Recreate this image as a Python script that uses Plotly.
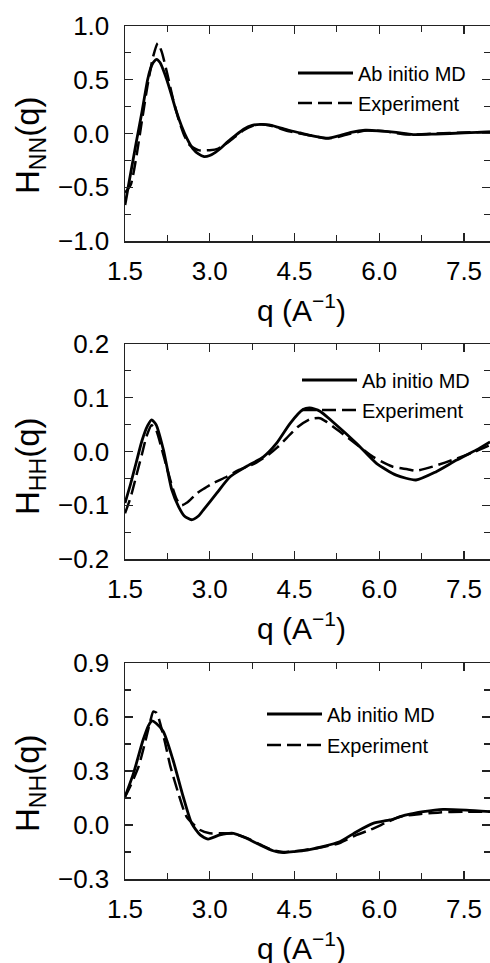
import plotly.graph_objects as go

# ---------------- data ----------------
nn_md_q = [1.5, 1.6, 1.7, 1.8, 1.9, 1.95, 2.0, 2.06, 2.12, 2.2, 2.3, 2.4, 2.5, 2.6, 2.7, 2.8, 2.9, 3.0,
           3.1, 3.2, 3.3, 3.45, 3.6, 3.75, 3.9, 4.05, 4.2, 4.4, 4.6, 4.8, 5.0, 5.1, 5.3, 5.5, 5.75,
           6.0, 6.3, 6.6, 7.0, 7.5, 7.96]
nn_md_v = [-0.665, -0.37, -0.08, 0.2, 0.5, 0.6, 0.66, 0.69, 0.66, 0.56, 0.40, 0.22, 0.07, -0.05, -0.14,
           -0.19, -0.215, -0.205, -0.175, -0.135, -0.085, -0.02, 0.04, 0.075, 0.085, 0.08, 0.06, 0.03,
           0.005, -0.02, -0.04, -0.045, -0.02, 0.01, 0.03, 0.025, 0.01, -0.01, -0.005, 0.005, 0.015]
nn_ex_q = [1.5, 1.6, 1.7, 1.8, 1.9, 2.0, 2.08, 2.15, 2.25, 2.35, 2.45, 2.55, 2.65, 2.8, 3.0, 3.15, 3.3,
           3.45, 3.6, 3.75, 3.9, 4.1, 4.4, 4.7, 5.0, 5.2, 5.5, 5.8, 6.1, 6.5, 7.0, 7.5, 7.96]
nn_ex_v = [-0.55, -0.48, -0.22, 0.12, 0.45, 0.72, 0.84, 0.76, 0.55, 0.32, 0.13, -0.02, -0.11, -0.155,
           -0.155, -0.14, -0.09, -0.03, 0.03, 0.07, 0.085, 0.07, 0.02, -0.01, -0.04, -0.04, 0.0, 0.03,
           0.02, -0.01, 0.0, 0.01, 0.015]

hh_md_q = [1.5, 1.6, 1.7, 1.8, 1.9, 1.97, 2.05, 2.18, 2.33, 2.45, 2.55, 2.68, 2.8, 2.885, 3.12, 3.36,
           3.65, 3.95, 4.18, 4.42, 4.65, 4.77, 4.95, 5.18, 5.6, 5.95, 6.3, 6.65, 7.0, 7.37, 7.72, 7.96]
hh_md_v = [-0.096, -0.06, -0.02, 0.02, 0.048, 0.059, 0.05, 0.003, -0.072, -0.103, -0.12, -0.127, -0.12,
           -0.109, -0.078, -0.047, -0.028, -0.010, 0.015, 0.052, 0.078, 0.081, 0.075, 0.055, 0.015,
           -0.022, -0.044, -0.053, -0.038, -0.016, 0.003, 0.018]
hh_ex_q = [1.5, 1.6, 1.71, 1.8, 1.88, 1.97, 2.05, 2.15, 2.24, 2.35, 2.42, 2.5, 2.6, 2.77, 2.9, 3.06,
           3.3, 3.5, 3.8, 4.05, 4.2, 4.36, 4.55, 4.77, 4.95, 5.07, 5.3, 5.6, 5.89, 6.23, 6.5, 6.65,
           6.95, 7.37, 7.7, 7.96]
hh_ex_v = [-0.115, -0.085, -0.041, -0.005, 0.028, 0.049, 0.04, 0.005, -0.03, -0.07, -0.09, -0.10,
           -0.095, -0.078, -0.069, -0.059, -0.047, -0.035, -0.022, -0.005, 0.008, 0.025, 0.045, 0.060,
           0.062, 0.055, 0.037, 0.013, -0.01, -0.028, -0.033, -0.036, -0.028, -0.013, 0.0, 0.012]

nh_md_q = [1.5, 1.65, 1.82, 1.92, 1.98, 2.05, 2.18, 2.35, 2.53, 2.68, 2.83, 2.97, 3.18, 3.42, 3.65,
           3.89, 4.12, 4.3, 4.48, 4.65, 5.0, 5.3, 5.6, 5.89, 6.19, 6.48, 6.78, 7.13, 7.54, 7.96]
nh_md_v = [0.157, 0.287, 0.472, 0.555, 0.578, 0.565, 0.518, 0.361, 0.157, 0.009, -0.055, -0.078,
           -0.055, -0.046, -0.074, -0.111, -0.143, -0.154, -0.148, -0.143, -0.12, -0.093, -0.037,
           0.009, 0.028, 0.056, 0.074, 0.087, 0.083, 0.074]
nh_ex_q = [1.5, 1.59, 1.74, 1.88, 1.95, 2.0, 2.05, 2.09, 2.2, 2.3, 2.45, 2.59, 2.83, 3.0, 3.18, 3.42,
           3.65, 3.89, 4.12, 4.3, 4.48, 4.65, 5.0, 5.3, 5.6, 5.83, 6.1, 6.36, 6.7, 7.07, 7.48, 7.96]
nh_ex_v = [0.157, 0.213, 0.324, 0.49, 0.58, 0.63, 0.625, 0.60, 0.47, 0.33, 0.17, 0.046, -0.028, -0.046,
           -0.046, -0.048, -0.072, -0.108, -0.14, -0.15, -0.146, -0.14, -0.122, -0.1, -0.055, -0.028,
           0.01, 0.046, 0.06, 0.07, 0.074, 0.074]

x_ticks = [1.5, 3.0, 4.5, 6.0, 7.5]
panels = [
    dict(md=(nn_md_q, nn_md_v), ex=(nn_ex_q, nn_ex_v), yr=[-1.0, 1.0], dt=0.5,
         ylab="H<sub>NN</sub>(q)"),
    dict(md=(hh_md_q, hh_md_v), ex=(hh_ex_q, hh_ex_v), yr=[-0.2, 0.2], dt=0.1,
         ylab="H<sub>HH</sub>(q)"),
    dict(md=(nh_md_q, nh_md_v), ex=(nh_ex_q, nh_ex_v), yr=[-0.3, 0.9], dt=0.3,
         ylab="H<sub>NH</sub>(q)"),
]
legend_names = ["Ab initio MD", "Experiment"]

# ---------------- layout geometry (pixels) ----------------
W, H = 490, 963
FONT = "Liberation Sans, Arial, sans-serif"
plot_tops = [26, 344, 663]
plot_bots = [241, 559, 879]
ytitle_c = [145, 466, 783]
leg_x = [293, 297, 262]
leg_y = [(73, 103), (380, 410), (714, 745)]
left_px = 125

fig = go.Figure()
layout = dict(width=W, height=H, autosize=False, margin=dict(l=0, r=0, t=0, b=0),
              paper_bgcolor="white", plot_bgcolor="white", font=dict(family=FONT, color="black"),
              showlegend=True, annotations=[])

tickc = "#222"
for i, p in enumerate(panels):
    sfx = "" if i == 0 else str(i + 1)
    legs = [f"legend{2*i+1}" if i > 0 else "legend", f"legend{2*i+2}"]
    fig.add_trace(go.Scatter(x=p["md"][0], y=p["md"][1], mode="lines", name=legend_names[0],
                             line=dict(color="black", width=2.8, shape="spline", smoothing=0.6),
                             xaxis="x" + sfx, yaxis="y" + sfx, legend=legs[0], showlegend=True))
    fig.add_trace(go.Scatter(x=p["ex"][0], y=p["ex"][1], mode="lines", name=legend_names[1],
                             line=dict(color="black", width=2.5, dash="14px,6px", shape="spline",
                                       smoothing=0.6),
                             xaxis="x" + sfx, yaxis="y" + sfx, legend=legs[1], showlegend=True))
    ydom = [1 - plot_bots[i] / H, 1 - plot_tops[i] / H]
    layout["xaxis" + sfx] = dict(
        domain=[left_px / W, 1.0], range=[1.5, 7.96], anchor="y" + sfx,
        tickmode="array", tickvals=x_ticks, ticktext=[f"{v:.1f}" for v in x_ticks],
        ticks="inside", ticklen=8, tickwidth=1.2, tickcolor=tickc,
        minor=dict(tickmode="linear", tick0=2.25, dtick=1.5, ticks="inside", ticklen=6,
                   tickwidth=1.2, tickcolor=tickc),
        showline=True, linecolor=tickc, linewidth=1.5, mirror="ticks",
        showgrid=False, zeroline=False, automargin=False,
        tickfont=dict(size=26, family=FONT), ticklabelstandoff=6)
    layout["yaxis" + sfx] = dict(
        domain=ydom, range=p["yr"], anchor="x" + sfx,
        tickmode="linear", tick0=p["yr"][0], dtick=p["dt"], tickformat=".1f",
        ticks="inside", ticklen=8, tickwidth=1.2, tickcolor=tickc,
        minor=dict(tickmode="linear", tick0=p["yr"][0] + p["dt"] / 2, dtick=p["dt"],
                   ticks="inside", ticklen=6, tickwidth=1.2, tickcolor=tickc),
        showline=True, linecolor=tickc, linewidth=1.5, mirror="ticks",
        showgrid=False, zeroline=False, automargin=False,
        tickfont=dict(size=26, family=FONT), ticklabelstandoff=9)
    for k, lg in enumerate(legs):
        layout[lg] = dict(x=leg_x[i] / W, y=1 - leg_y[i][k] / H, xanchor="left", yanchor="middle",
                          bgcolor="rgba(0,0,0,0)", borderwidth=0, visible=True,
                          font=dict(size=20, family=FONT), itemwidth=55)
    layout["annotations"].append(dict(
        text=p["ylab"], textangle=-90, xref="paper", yref="paper",
        x=30 / W, y=1 - ytitle_c[i] / H, xanchor="center", yanchor="middle", showarrow=False,
        font=dict(size=33, family=FONT)))
    layout["annotations"].append(dict(
        text="q (A<sup>−1</sup>)", xref="paper", yref="paper",
        x=301 / W, y=1 - (plot_bots[i] + 67) / H, xanchor="center", yanchor="middle",
        showarrow=False, font=dict(size=30, family=FONT)))

fig.update_layout(**layout)
fig.write_html("out.html", config={"staticPlot": True},
               post_script="document.body.style.margin='0';document.body.style.overflow='hidden';")
